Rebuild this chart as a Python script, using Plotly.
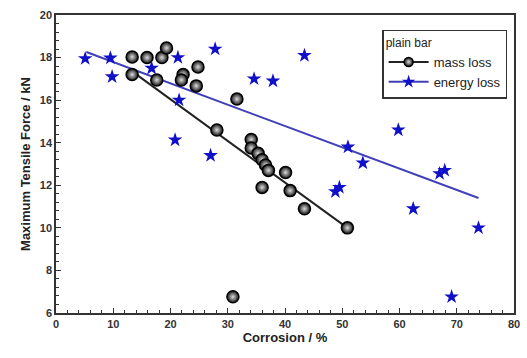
import plotly.graph_objects as go

# mass loss data (black spheres)
mass_x = [13.3, 13.3, 15.9, 18.5, 19.3, 17.6, 22.2, 21.9, 24.8, 24.5, 28.1, 31.6, 30.9,
          34.1, 34.1, 35.3, 36.0, 36.6, 37.1, 40.1, 36.0, 40.9, 43.4, 50.9]
mass_y = [18.03, 17.2, 18.0, 18.0, 18.45, 16.95, 17.2, 16.95, 17.56, 16.67, 14.6, 16.05, 6.76,
          14.15, 13.75, 13.5, 13.2, 12.95, 12.7, 12.6, 11.9, 11.75, 10.9, 10.0]

# energy loss data (blue stars)
energy_x = [5.1, 9.5, 9.8, 16.7, 21.3, 21.5, 20.8, 27.0, 27.8, 34.6, 37.9, 43.4,
            59.8, 51.0, 53.6, 67.0, 67.9, 48.8, 49.5, 62.4, 73.8, 69.1]
energy_y = [17.95, 17.98, 17.1, 17.5, 18.0, 16.0, 14.13, 13.4, 18.4, 17.0, 16.9, 18.1,
            14.6, 13.8, 13.05, 12.55, 12.7, 11.7, 11.9, 10.9, 10.0, 6.76]

# linear fit lines (endpoints)
mass_fit_x = [13.3, 50.9]
mass_fit_y = [17.35, 10.0]
energy_fit_x = [5.3, 73.8]
energy_fit_y = [18.26, 11.4]

BLACK_LINE = "#222222"
BLUE_LINE = "#4040b8"
STAR = "#1010c8"

fig = go.Figure()
fig.add_trace(go.Scatter(x=energy_fit_x, y=energy_fit_y, mode="lines",
                         line=dict(color=BLUE_LINE, width=2), showlegend=False))
fig.add_trace(go.Scatter(x=mass_fit_x, y=mass_fit_y, mode="lines",
                         line=dict(color=BLACK_LINE, width=2), showlegend=False))
fig.add_trace(go.Scatter(x=mass_x, y=mass_y, mode="markers", showlegend=False,
                         marker=dict(symbol="circle", size=12, color="#111111",
                                     gradient=dict(type="radial", color="#dddddd"),
                                     line=dict(color="black", width=1.5))))
fig.add_trace(go.Scatter(x=energy_x, y=energy_y, mode="markers", showlegend=False,
                         marker=dict(symbol="star", size=11, color=STAR,
                                     line=dict(width=0))))
# legend entries
fig.add_trace(go.Scatter(x=[None], y=[None], mode="lines+markers", name="mass loss",
                         line=dict(color=BLACK_LINE, width=2),
                         marker=dict(symbol="circle", size=9, color="#111111",
                                     gradient=dict(type="radial", color="#dddddd"),
                                     line=dict(color="black", width=1.5))))
fig.add_trace(go.Scatter(x=[None], y=[None], mode="lines+markers", name="energy loss",
                         line=dict(color=BLUE_LINE, width=2),
                         marker=dict(symbol="star", size=10, color=STAR)))

fig.update_layout(
    width=527, height=358,
    margin=dict(l=56, r=7, t=15, b=45),
    plot_bgcolor="white", paper_bgcolor="white",
    font=dict(family="Liberation Sans, Arial", color="#222222"),
    legend=dict(x=0.985, y=0.95, xanchor="right", yanchor="top",
                bordercolor="#333333", borderwidth=1.5, bgcolor="white",
                title=dict(text="plain bar", font=dict(size=12, color="#222222")),
                font=dict(size=13, color="#222222"),
                tracegroupgap=0, itemwidth=40),
    xaxis=dict(range=[0, 80], dtick=10, showline=True, linecolor="#333333", linewidth=1.5,
               mirror=True, ticks="inside", ticklen=5, tickcolor="#333333",
               minor=dict(dtick=2, ticks="inside", ticklen=3, tickcolor="#333333"),
               showgrid=False, zeroline=False,
               tickfont=dict(family="Liberation Sans, Arial", size=11, color="#333333", weight="bold"),
               title=dict(text="<b>Corrosion / %</b>", font=dict(size=13, color="#222222"), standoff=4)),
    yaxis=dict(range=[6, 20], dtick=2, showline=True, linecolor="#333333", linewidth=1.5,
               mirror=True, ticks="inside", ticklen=5, tickcolor="#333333",
               minor=dict(dtick=0.4, ticks="inside", ticklen=3, tickcolor="#333333"),
               showgrid=False, zeroline=False,
               tickfont=dict(family="Liberation Sans, Arial", size=11, color="#333333", weight="bold"),
               title=dict(text="<b>Maximum Tensile Force / kN</b>", font=dict(size=13, color="#222222"), standoff=6)),
)
fig.write_html("out.html")
